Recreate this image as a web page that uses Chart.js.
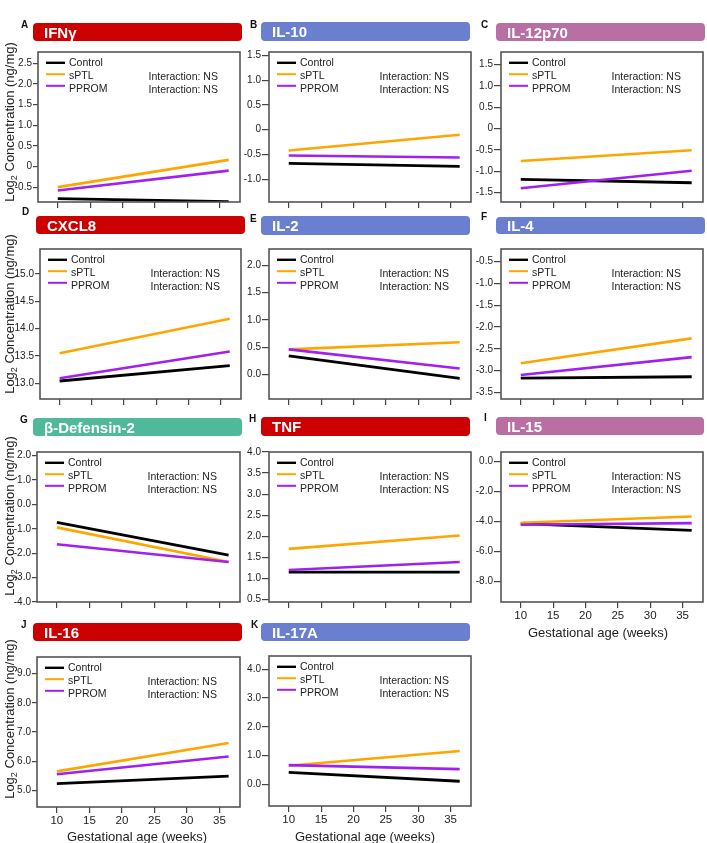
<!DOCTYPE html>
<html><head><meta charset="utf-8">
<script src="https://cdn.jsdelivr.net/npm/chart.js@4.4.0/dist/chart.umd.min.js"></script>
<style>
html,body{margin:0;padding:0;background:#fff;}
#wrap{position:relative;width:707px;height:843px;overflow:hidden;font-family:"Liberation Sans",Arial,sans-serif;color:#222;}
.bar{position:absolute;border-radius:4px;color:#fff;font-weight:bold;font-size:15px;padding-left:11px;box-sizing:border-box;z-index:2;display:flex;align-items:center;}
.letter{position:absolute;font-weight:bold;font-size:10px;z-index:2;line-height:10px;transform:translateY(-50%);color:#111;}
canvas{position:absolute;z-index:1;}
.ytitle{position:absolute;transform:translate(-50%,-50%) rotate(-90deg);white-space:nowrap;font-size:13px;z-index:3;}
.xtitle{position:absolute;transform:translate(-50%,-50%);white-space:nowrap;font-size:13px;z-index:3;}
.sub{font-size:9px;position:relative;top:3px;}
</style>
</head><body><div id="wrap"></div>
<script>
// ---------------- DATA ----------------
const panelNames = ['IFNγ','IL-10','IL-12p70','CXCL8','IL-2','IL-4','β-Defensin-2','TNF','IL-15','IL-16','IL-17A'];
const panelLetters = ['A','B','C','D','E','F','G','H','I','J','K'];
const groups = ['Control','sPTL','PPROM'];
const weeks = [10, 36.4];
const controlValues = [[-0.78,-0.85],[-0.68,-0.74],[-1.19,-1.27],[13.04,13.32],[0.34,-0.07],[-3.17,-3.14],[-0.74,-2.08],[1.15,1.15],[-4.15,-4.60],[5.23,5.49],[0.42,0.11]];
const sptlValues    = [[-0.50,0.16],[-0.42,-0.10],[-0.76,-0.51],[13.55,14.18],[0.46,0.59],[-2.83,-2.26],[-0.94,-2.36],[1.70,2.02],[-4.09,-3.67],[5.65,6.62],[0.65,1.16]];
const ppromValues   = [[-0.58,-0.10],[-0.52,-0.56],[-1.40,-0.99],[13.09,13.58],[0.46,0.11],[-3.10,-2.69],[-1.63,-2.36],[1.20,1.39],[-4.22,-4.11],[5.55,6.16],[0.67,0.53]];
const yTickLabels = [
  ['2.5','2.0','1.5','1.0','0.5','0','-0.5'],
  ['1.5','1.0','0.5','0','-0.5','-1.0'],
  ['1.5','1.0','0.5','0','-0.5','-1.0','-1.5'],
  ['15.0','14.5','14.0','13.5','13.0'],
  ['2.0','1.5','1.0','0.5','0.0'],
  ['-0.5','-1.0','-1.5','-2.0','-2.5','-3.0','-3.5'],
  ['2.0','1.0','0.0','-1.0','-2.0','-3.0','-4.0'],
  ['4.0','3.5','3.0','2.5','2.0','1.5','1.0','0.5'],
  ['0.0','-2.0','-4.0','-6.0','-8.0'],
  ['9.0','8.0','7.0','6.0','5.0'],
  ['4.0','3.0','2.0','1.0','0.0']
];
const yRanges = [[-0.86,2.77],[-1.46,1.57],[-1.72,1.79],[12.71,15.46],[-0.45,2.30],[-3.65,-0.21],[-4.0,2.15],[0.44,4.0],[-9.36,0.62],[4.43,9.57],[-0.75,4.46]];
const xTickLabels = ['10','15','20','25','30','35'];
const xRange = [6.95, 38.15];
const interactionLabel = 'Interaction: NS';
const xAxisTitle = 'Gestational age (weeks)';

// ---------------- LAYOUT / STYLE ----------------
const boxes = [
  [38,52,240,202],[269,52,471,202],[501,52,703,202],
  [40,249,241,399],[269,249,471,399],[501,249,703,399],
  [37,452,240,602],[269,452,471,602],[501,452,703,602],
  [37,657,240,807],[269,656,471,806]
];
const bars = [
  [33,23,242,41],[261,22,470,41],[496,23,705,41],
  [36,216,245,234],[261,216,470,235],[496,217,705,234],
  [33,418,242,436],[261,417,470,436],[496,417,704,435],
  [33,623,242,641],[261,623,470,641]
];
const letters = [[21,25],[250,25],[481,25],[22,212],[250,219],[481,217],[20,420],[249,419],[484,418],[21,625],[251,625]];
const barColors = {red:'#CC0000', blue:'#6A7FCF', pink:'#B96FA4', teal:'#50B99B'};
const panelBarColor = ['red','blue','pink','red','blue','blue','teal','red','pink','red','blue'];
const lineColors = ['#000000','#FFA500','#A020F0'];
const showXLabels = [false,false,false,false,false,false,false,false,true,true,true];
const yTickLen = [5,7,7,5,7,7,5,7,7,5,7];
const yTitles = [[9,122],[9,314],[9,516],[9,719]];
const xTitles = [[598,632],[137,836],[365,836]];
const Y_W = 40, PAD_T = 12, PAD_R = 12, X_H = 30;
const FONT = '"Liberation Sans", Arial, sans-serif';

const wrap = document.getElementById('wrap');
const series = [controlValues, sptlValues, ppromValues];

const frameLegend = {
  id: 'frameLegend',
  afterDraw(chart) {
    const {ctx} = chart;
    const {left, top, right, bottom} = chart.chartArea;
    ctx.save();
    ctx.strokeStyle = '#555';
    ctx.lineWidth = 1.6;
    ctx.strokeRect(left, top, right - left, bottom - top);
    const lineY = [10.8, 22.2, 33.8];
    const textY = [11.5, 24.5, 37];
    ctx.font = '10.5px ' + FONT;
    ctx.textBaseline = 'middle';
    ctx.textAlign = 'left';
    chart.data.datasets.forEach((ds, i) => {
      ctx.strokeStyle = ds.borderColor;
      ctx.lineWidth = i === 0 ? 2.4 : 2;
      ctx.beginPath();
      ctx.moveTo(left + 8, top + lineY[i]);
      ctx.lineTo(left + 27, top + lineY[i]);
      ctx.stroke();
      ctx.fillStyle = '#222';
      ctx.fillText(ds.label, left + 31, top + textY[i]);
    });
    ctx.fillText(interactionLabel, left + 110.5, top + 25.3);
    ctx.fillText(interactionLabel, left + 110.5, top + 37.8);
    ctx.restore();
  }
};

panelNames.forEach((name, p) => {
  const b = bars[p];
  const bar = document.createElement('div');
  bar.className = 'bar';
  bar.style.left = b[0] + 'px'; bar.style.top = b[1] + 'px';
  bar.style.width = (b[2] - b[0]) + 'px'; bar.style.height = (b[3] - b[1]) + 'px';
  bar.style.background = barColors[panelBarColor[p]];
  bar.textContent = name;
  wrap.appendChild(bar);
  const l = document.createElement('div');
  l.className = 'letter';
  l.style.left = letters[p][0] + 'px'; l.style.top = letters[p][1] + 'px';
  l.textContent = panelLetters[p];
  wrap.appendChild(l);
  const bx = boxes[p];
  const w = Y_W + (bx[2] - bx[0]) + PAD_R;
  const h = PAD_T + (bx[3] - bx[1]) + X_H;
  const cv = document.createElement('canvas');
  cv.width = w; cv.height = h;
  cv.style.width = w + 'px'; cv.style.height = h + 'px';
  cv.style.left = (bx[0] - Y_W) + 'px'; cv.style.top = (bx[1] - PAD_T) + 'px';
  wrap.appendChild(cv);
  const yLabels = yTickLabels[p];
  new Chart(cv.getContext('2d'), {
    type: 'line',
    data: {
      datasets: groups.map((g, gi) => ({
        label: g,
        data: weeks.map((wk, wi) => ({x: wk, y: series[gi][p][wi]})),
        borderColor: lineColors[gi],
        backgroundColor: lineColors[gi],
        borderWidth: gi === 0 ? 2.8 : 2.6,
        pointRadius: 0,
        tension: 0,
        fill: false,
        order: 2 - gi
      }))
    },
    options: {
      responsive: false,
      animation: false,
      devicePixelRatio: 1,
      layout: {padding: {top: PAD_T, right: PAD_R, left: 0, bottom: 0}},
      plugins: {legend: {display: false}, tooltip: {enabled: false}},
      scales: {
        x: {
          type: 'linear', min: xRange[0], max: xRange[1],
          afterBuildTicks: s => { s.ticks = xTickLabels.map(v => ({value: parseFloat(v)})); },
          afterFit: s => { s.height = X_H; },
          ticks: {display: showXLabels[p], autoSkip: false, maxRotation: 0, padding: 1,
                  font: {family: FONT, size: 11.5}, color: '#222',
                  callback: v => xTickLabels.find(t => parseFloat(t) === v) || ''},
          grid: {display: true, drawOnChartArea: false, drawTicks: true, tickLength: 6, color: '#444', lineWidth: 1.2},
          border: {display: false}
        },
        y: {
          type: 'linear', min: yRanges[p][0], max: yRanges[p][1],
          afterBuildTicks: s => { s.ticks = yLabels.map(v => ({value: parseFloat(v)})); },
          afterFit: s => { s.width = Y_W; },
          ticks: {autoSkip: false, padding: 1, font: {family: FONT, size: 10}, color: '#222',
                  callback: v => yLabels.find(t => parseFloat(t) === v) || ''},
          grid: {display: true, drawOnChartArea: false, drawTicks: true, tickLength: yTickLen[p], color: '#444', lineWidth: 1.2},
          border: {display: false}
        }
      }
    },
    plugins: [frameLegend]
  });
});

yTitles.forEach(([x, y]) => {
  const d = document.createElement('div');
  d.className = 'ytitle';
  d.style.left = x + 'px'; d.style.top = y + 'px';
  d.innerHTML = 'Log<span class="sub">2</span> Concentration (ng/mg)';
  wrap.appendChild(d);
});
xTitles.forEach(([x, y]) => {
  const d = document.createElement('div');
  d.className = 'xtitle';
  d.style.left = x + 'px'; d.style.top = y + 'px';
  d.textContent = xAxisTitle;
  wrap.appendChild(d);
});
</script>
</body></html>
